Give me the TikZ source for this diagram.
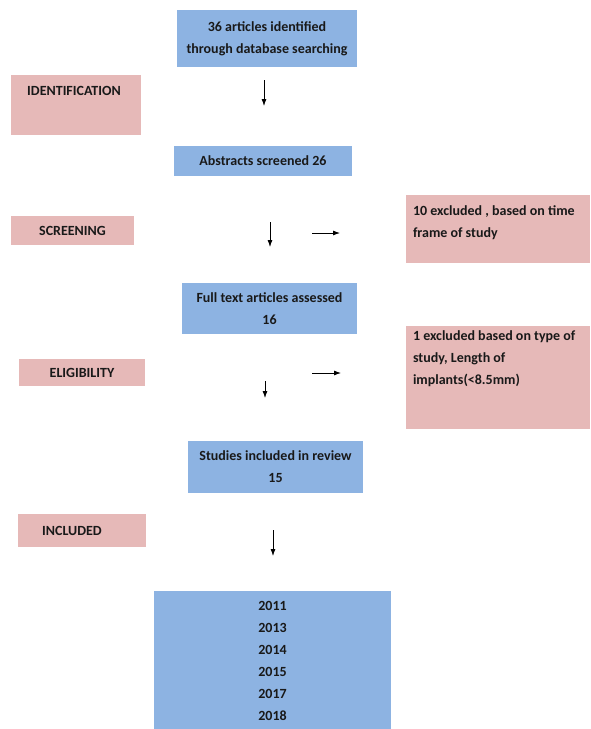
\documentclass[tikz,border=0pt]{standalone}
\usepackage{fontspec}
\setmainfont{Carlito}
\usetikzlibrary{positioning, arrows.meta}
\definecolor{flowblue}{HTML}{8DB3E2}
\definecolor{stagepink}{HTML}{E6B9B8}

\begin{document}
\begin{tikzpicture}[
        x=1pt, y=-1pt,
        every node/.style={font=\fontsize{14}{22}\selectfont\bfseries, text=black!90},
        flowbox/.style={rectangle, fill=flowblue, inner sep=0pt, align=center},
        stagebox/.style={rectangle, fill=stagepink, inner sep=0pt, align=center},
        note/.style={inner sep=0pt, align=left},
        arrow/.style={-{Latex[length=7pt, width=5pt]}, line width=0.8pt},
    ]
        \useasboundingbox (0,0) rectangle (590,729);

        % Main flow
        \node[flowbox, minimum width=180pt, minimum height=57pt] (found) at (267,38.5) {36 articles identified\\through database searching};
        \node[flowbox, minimum width=178pt, minimum height=30pt] (abstr) at (263,161) {Abstracts screened 26};
        \node[flowbox, minimum width=175pt, minimum height=51pt] (full) at (269.5,308.5) {Full text articles assessed\\16};
        \node[flowbox, minimum width=175pt, minimum height=52pt] (incl) at (275.5,467) {Studies included in review\\15};
        \node[flowbox, minimum width=237pt, minimum height=139pt] (years) at (272.5,660.5) {2011\\2013\\2014\\2015\\2017\\2018};

        % Stages on the left
        \node[stagebox, minimum width=130pt, minimum height=60pt] (ident) at (76,105) {};
        \node[note, below=11.5pt of ident.north, xshift=-2pt] (identT) {IDENTIFICATION};
        \node[stagebox, minimum width=123pt, minimum height=29pt] (screen) at (72.5,230.5) {SCREENING};
        \node[stagebox, minimum width=126pt, minimum height=27pt] (elig) at (82,372.5) {ELIGIBILITY};
        \node[stagebox, minimum width=128pt, minimum height=33pt] (inclS) at (82,530.5) {};
        \node[note, xshift=-10pt] (inclT) at (inclS.center) {INCLUDED};

        % Exclusions on the right
        \node[stagebox, minimum width=184pt, minimum height=68pt] (exc1) at (498,229) {};
        \node[note, below right=11pt and 7pt of exc1.north west] (exc1T) {10 excluded , based on time\\frame of study};
        \node[stagebox, minimum width=184pt, minimum height=103pt] (exc2) at (498,377.5) {};
        \node[note, below right=5pt and 7pt of exc2.north west] (exc2T) {1 excluded based on type of\\study, Length of\\implants(<8.5mm)};

        % Arrows
        \coordinate (d1a) at (264,80);  \coordinate (d1b) at (264,106);
        \coordinate (d2a) at (270,222); \coordinate (d2b) at (270,247);
        \coordinate (r2a) at (312,233); \coordinate (r2b) at (340,233);
        \coordinate (d3a) at (265,381); \coordinate (d3b) at (265,398);
        \coordinate (r3a) at (312,373); \coordinate (r3b) at (341,373);
        \coordinate (d4a) at (273,530); \coordinate (d4b) at (273,556);
        \draw[arrow] (d1a) -- (d1b);
        \draw[arrow] (d2a) -- (d2b);
        \draw[arrow] (r2a) -- (r2b);
        \draw[arrow] (d3a) -- (d3b);
        \draw[arrow] (r3a) -- (r3b);
        \draw[arrow] (d4a) -- (d4b);

    \end{tikzpicture}
\end{document}
